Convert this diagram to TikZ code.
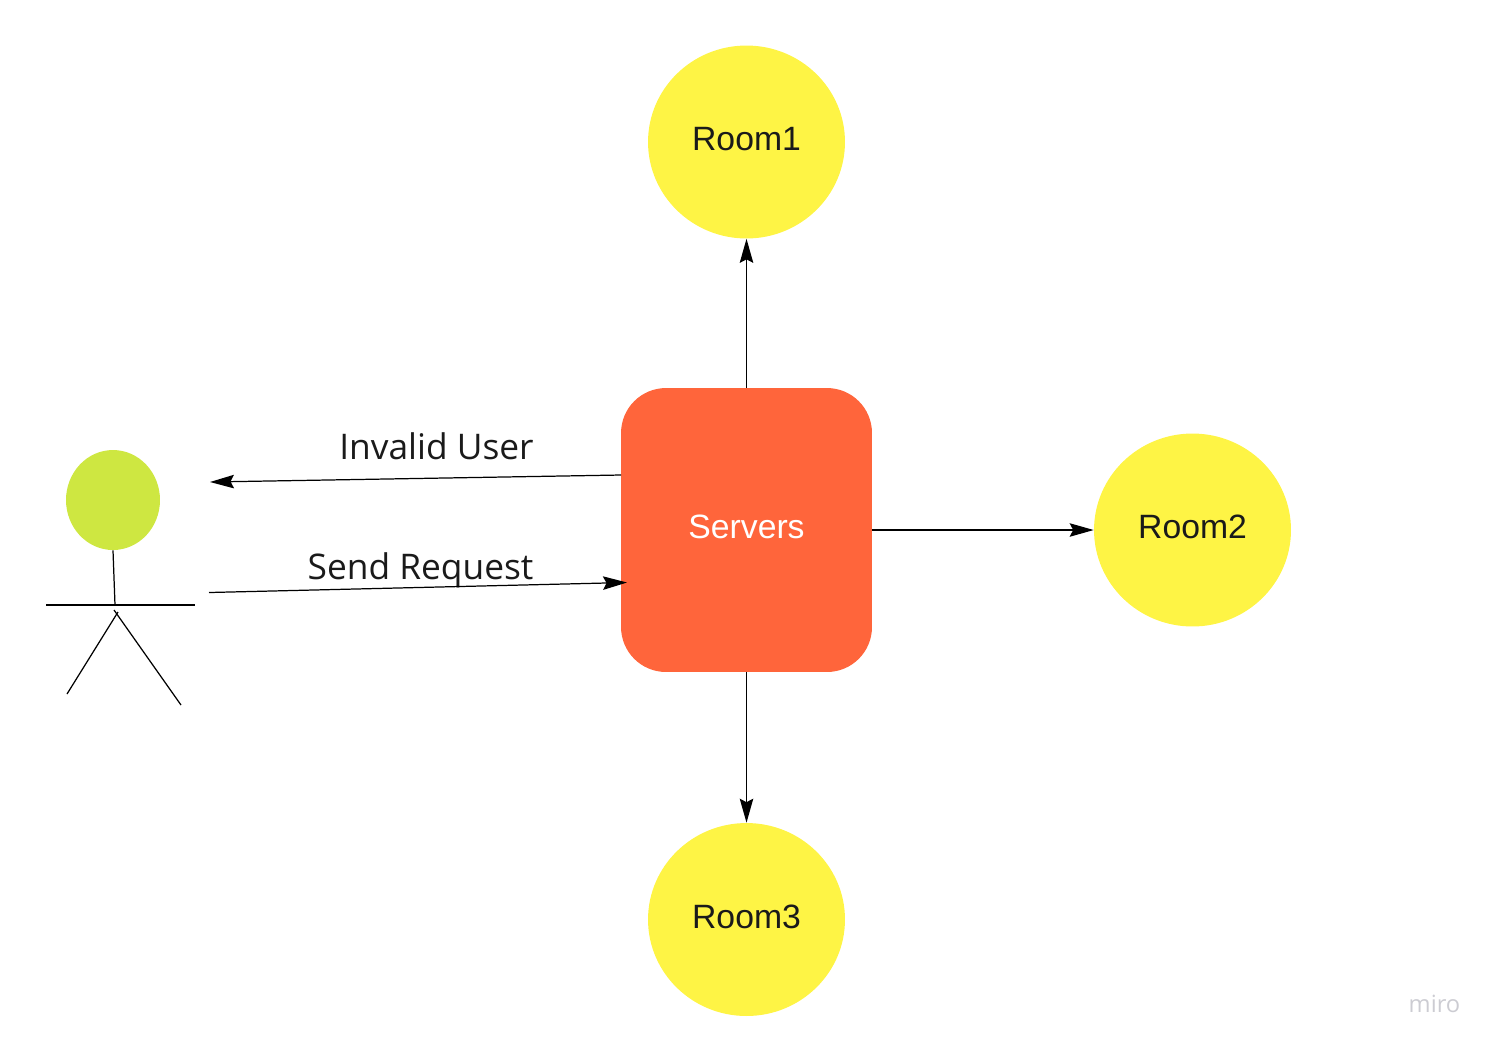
\documentclass[tikz,border=0pt]{standalone}
\usepackage{fontspec}
\setmainfont{Liberation Sans}
\newfontfamily\labelfont{Open Sans}
\usetikzlibrary{arrows.meta,shapes.geometric}
\definecolor{roomyellow}{HTML}{FEF445}
\definecolor{serverred}{HTML}{FF653B}
\definecolor{headgreen}{HTML}{CEE741}
\definecolor{inkgray}{HTML}{1A1A1A}
\definecolor{markgray}{HTML}{CCCCD2}
\tikzset{
	boxtext/.style={inner sep=0pt,text depth=0.12cm,font=\fontsize{19.2}{23}\selectfont},
	room/.style={boxtext,ellipse,fill=roomyellow,minimum width=3.94cm,minimum height=3.86cm,text=inkgray},
	link/.style={-{Stealth[length=0.48cm,width=0.27cm,inset=0.07cm]},line width=0.7pt,black},
	stick/.style={line width=0.7pt,black},
	tag/.style={inner sep=0pt,text=inkgray,font=\labelfont\fontsize{20.1}{24}\selectfont}
}

\begin{document}
\begin{tikzpicture}[x=0.02cm,y=-0.02cm]
	\useasboundingbox (0,0) rectangle (1493,1046);
	\node [room] (room1) at (746.5,142) {Room1};
	\node [room] (room2) at (1192.5,530) {Room2};
	\node [room] (room3) at (746.5,919.5) {Room3};
	\node [boxtext,fill=serverred,rounded corners=0.9cm,minimum width=5.02cm,minimum height=5.68cm,text=white] (servers) at (746.5,530) {Servers};
	\node [ellipse,fill=headgreen,minimum width=1.88cm,minimum height=2cm,inner sep=0pt] (head) at (113,500) {};
	\node [tag] (invalid) at (436.5,446) {Invalid User};
	\node [tag] (request) at (420.5,570) {Send Request};
	\node [inner sep=0pt,text=markgray,font=\labelfont\fontsize{13.5}{16}\selectfont] (miro) at (1434.5,1004) {miro};
	% free ends of the two user arrows and of the stick figure
	\coordinate (invalidend) at (210,482);
	\coordinate (invalidstart) at (621,475);
	\coordinate (requeststart) at (209,592.5);
	\coordinate (requestend) at (627,582.5);
	\coordinate (neck) at (115,605);
	\coordinate (armleft) at (46,605);
	\coordinate (armright) at (195,605);
	\coordinate (hipleft) at (118,612);
	\coordinate (hipright) at (114,610);
	\coordinate (legleft) at (67,694);
	\coordinate (legright) at (181,705);
	\draw [link] (servers.north) -- (room1.south);
	\draw [link] (servers.east) -- (room2.west);
	\draw [link] (servers.south) -- (room3.north);
	\draw [link] (invalidstart) -- (invalidend);
	\draw [link] (requeststart) -- (requestend);
	\draw [stick] (head.south) -- (neck);
	\draw [stick] (armleft) -- (armright);
	\draw [stick] (hipleft) -- (legleft);
	\draw [stick] (hipright) -- (legright);
\end{tikzpicture}
\end{document}
